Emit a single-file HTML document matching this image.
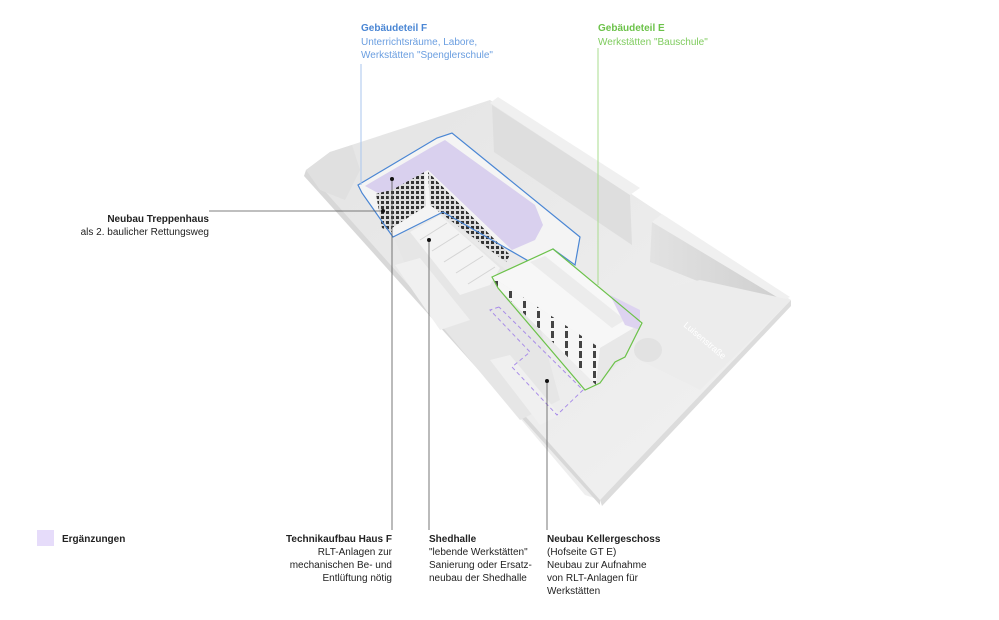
<!DOCTYPE html>
<html><head><meta charset="utf-8"><style>
html,body{margin:0;padding:0;background:#fff;width:999px;height:620px;overflow:hidden}
svg{display:block}
text{font-family:"Liberation Sans",sans-serif;font-size:10px;fill:#222}
.b{font-weight:bold}
</style></head><body>
<svg width="999" height="620" viewBox="0 0 999 620" xmlns="http://www.w3.org/2000/svg">
<defs>
<linearGradient id="pl" x1="0" y1="0" x2="1" y2="1"><stop offset="0" stop-color="#e4e4e4"/><stop offset="1" stop-color="#f2f2f2"/></linearGradient>
<linearGradient id="wl" x1="0" y1="0" x2="1" y2="0"><stop offset="0" stop-color="#e2e2e2"/><stop offset="1" stop-color="#cfcfcf"/></linearGradient>
<pattern id="grid" width="5" height="5" patternUnits="userSpaceOnUse"><rect width="5" height="5" fill="#ddd"/><rect x="1" y="1" width="3" height="3" fill="#333"/></pattern>
<pattern id="win" width="14" height="10" patternUnits="userSpaceOnUse"><rect width="14" height="10" fill="#f6f6f6"/><rect x="5" y="1" width="3" height="7" fill="#444"/></pattern>
</defs>
<!-- base plate -->
<polygon points="306,170 330,152 490,100 791,300 783,312 600,500 585,495 420,300" fill="url(#pl)"/>
<polygon points="306,170 600,500 600,505 304,176" fill="#d8d8d8"/>
<polygon points="600,500 791,300 791,306 602,506" fill="#dcdcdc"/>
<!-- back walls -->
<polygon points="492,105 630,195 632,245 494,152" fill="#dedede"/>
<polygon points="490,103 498,97 640,188 630,195" fill="#f0f0f0"/>
<polygon points="652,222 782,300 775,312 650,262" fill="url(#wl)"/>
<polygon points="652,222 662,214 790,297 782,300" fill="#f0f0f0"/>
<polygon points="306,170 330,152 352,145 360,170 345,200 320,190" fill="#e0e0e0"/>
<!-- street area -->
<polygon points="620,300 700,280 791,300 700,390 640,360" fill="#ececec"/>
<text transform="translate(683,326) rotate(40)" style="fill:#fff;font-size:9px">Luisenstraße</text>
<!-- courtyard shade -->
<polygon points="395,240 440,215 530,290 560,400 520,420 420,300" fill="#e6e6e6"/>
<polygon points="395,265 420,258 470,320 440,330" fill="#f0f0f0"/>
<polygon points="490,360 510,355 560,415 540,425" fill="#f0f0f0"/>
<!-- shed hall -->
<polygon points="410,232 440,215 500,268 490,285 460,295" fill="#f3f3f3"/>
<g stroke="#d4d4d4" stroke-width="1"><line x1="420" y1="240" x2="447" y2="223"/><line x1="432" y1="251" x2="459" y2="234"/><line x1="444" y1="262" x2="471" y2="245"/><line x1="456" y1="273" x2="483" y2="256"/><line x1="468" y1="284" x2="495" y2="267"/></g>
<!-- building F -->
<polygon points="358,185 437,138 452,133 580,237 575,265 553,249 532,263 443,212 393,237 388,230 362,193" fill="#f4f4f4"/>
<polygon points="376,194 388,190 392,232 382,228" fill="url(#grid)"/>
<polygon points="388,190 424,170 426,206 392,228" fill="url(#grid)"/>
<polygon points="428,172 510,255 506,262 430,205" fill="url(#grid)"/>
<polygon points="365,186 430,148 445,140 535,205 543,225 535,240 512,250 428,170 392,190 378,193" fill="#d9d0ee"/>
<polygon points="358,185 437,138 452,133 580,237 575,265 553,249 532,263 443,212 393,237 388,230 362,193" fill="none" stroke="#4a86d4" stroke-width="1.2"/>
<!-- building E -->
<polygon points="492,277 553,249 642,323 600,348" fill="#f7f7f7"/>
<polygon points="530,262 545,256 625,320 612,328" fill="#ececec"/>
<polygon points="492,277 600,348 596,385 498,288" fill="url(#win)"/>
<polygon points="600,348 642,323 625,357 596,385" fill="#e8e8e8"/>
<polygon points="610,295 640,310 640,330 625,325" fill="#ddd3f0"/>
<ellipse cx="648" cy="350" rx="14" ry="12" fill="#e2e2e2"/>
<polygon points="492,277 553,249 642,323 625,357 615,362 600,383 585,390 498,288" fill="none" stroke="#6cc24a" stroke-width="1.2"/>
<polyline points="499,307 490,310 530,352 512,367 557,415 583,390 499,307" fill="none" stroke="#a98de8" stroke-width="1" stroke-dasharray="4,3"/>
<!-- leaders -->
<g stroke="#555" stroke-width="0.8"><line x1="209" y1="211" x2="383" y2="211"/><line x1="392" y1="179" x2="392" y2="530"/><line x1="429" y1="240" x2="429" y2="530"/><line x1="547" y1="381" x2="547" y2="530"/></g>
<g fill="#111"><circle cx="383" cy="211" r="2"/><circle cx="392" cy="179" r="2"/><circle cx="429" cy="240" r="2"/><circle cx="547" cy="381" r="2"/></g>
<line x1="361" y1="64" x2="361" y2="185" stroke="#a9c6ee" stroke-width="1"/>
<line x1="598" y1="48" x2="598" y2="285" stroke="#a9dc8f" stroke-width="1"/>
<!-- labels -->
<text x="361" y="31" class="b" style="fill:#4a86d4">Gebäudeteil F</text>
<text x="361" y="45" style="fill:#6a9ee0">Unterrichtsräume, Labore,</text>
<text x="361" y="58" style="fill:#6a9ee0">Werkstätten "Spenglerschule"</text>
<text x="598" y="31" class="b" style="fill:#6cc24a">Gebäudeteil E</text>
<text x="598" y="45" style="fill:#7fcc5e">Werkstätten "Bauschule"</text>
<text x="209" y="222" text-anchor="end" class="b">Neubau Treppenhaus</text>
<text x="209" y="235" text-anchor="end">als 2. baulicher Rettungsweg</text>
<rect x="37" y="530" width="17" height="16" fill="#e6dcfa"/>
<text x="62" y="542" class="b">Ergänzungen</text>
<g text-anchor="end"><text x="392" y="542" class="b">Technikaufbau Haus F</text><text x="392" y="555">RLT-Anlagen zur</text><text x="392" y="568">mechanischen Be- und</text><text x="392" y="581">Entlüftung nötig</text></g>
<text x="429" y="542" class="b">Shedhalle</text><text x="429" y="555">"lebende Werkstätten"</text><text x="429" y="568">Sanierung oder Ersatz-</text><text x="429" y="581">neubau der Shedhalle</text>
<text x="547" y="542" class="b">Neubau Kellergeschoss</text><text x="547" y="555">(Hofseite GT E)</text><text x="547" y="568">Neubau zur Aufnahme</text><text x="547" y="581">von RLT-Anlagen für</text><text x="547" y="594">Werkstätten</text>
</svg>
</body></html>
